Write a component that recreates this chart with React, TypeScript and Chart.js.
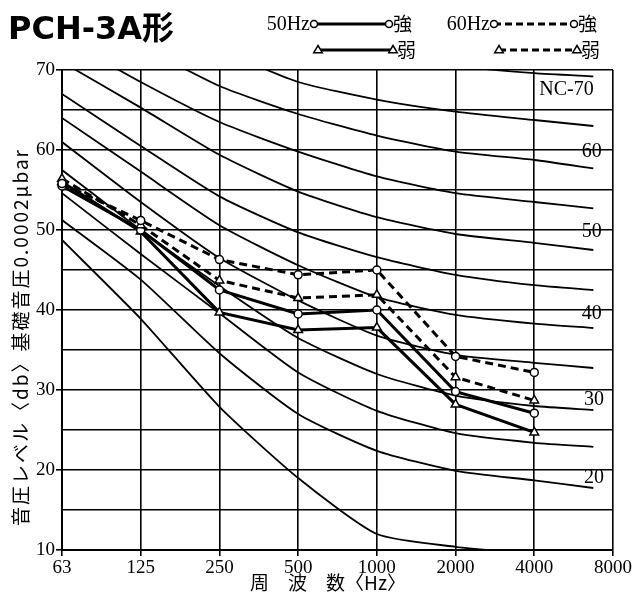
import React, { useEffect, useRef } from 'react';
import { Chart, registerables } from 'chart.js';

Chart.register(...registerables);

// ---- data ----
const freqLabels = ['63', '125', '250', '500', '1000', '2000', '4000', '8000'];
const dataX = [0, 1, 2, 3, 4, 5, 6];

const hz50Strong = [55.5, 50.0, 42.5, 39.5, 40.0, 29.8, 27.1];
const hz50Weak = [56.0, 49.8, 39.7, 37.5, 37.8, 28.2, 24.7];
const hz60Strong = [55.8, 51.2, 46.3, 44.4, 45.0, 34.2, 32.2];
const hz60Weak = [56.4, 50.6, 43.7, 41.5, 41.9, 31.6, 28.7];

// NC curve sample positions (category index; last point is where the drawn curve ends)
const ncX = [0, 1, 2, 3, 4, 5, 6, 6.75];
const nc15 = [48.75, 38.9, 27.9, 19.0, 12.0, 10.4, 9.5, 9.0];
const nc20 = [51.25, 43.8, 34.6, 27.0, 22.4, 19.9, 18.7, 17.75];
const nc25 = [54.6, 47.0, 39.6, 32.2, 27.4, 24.6, 23.4, 22.9];
const nc30 = [57.5, 50.0, 43.0, 36.5, 32.0, 29.3, 28.0, 27.5];
const nc35 = [61.0, 53.5, 46.5, 41.2, 36.8, 34.4, 33.4, 32.75];
const nc40 = [64.0, 57.3, 50.6, 45.6, 41.6, 39.4, 38.3, 37.75];
const nc45 = [67.0, 60.5, 54.2, 49.7, 46.6, 44.4, 43.1, 42.5];
const nc50 = [71.0, 65.3, 59.4, 54.8, 51.6, 49.5, 48.4, 47.5];
const nc55 = [74.0, 68.5, 63.5, 59.8, 56.7, 54.6, 53.5, 52.7];
const nc60 = [78.0, 73.0, 68.0, 64.5, 61.8, 59.8, 58.75, 57.7];
const nc65 = [81.0, 76.5, 72.5, 68.5, 66.3, 64.8, 63.75, 63.0];
const nc70 = [85.0, 81.0, 77.0, 74.0, 71.8, 70.5, 69.6, 69.2];
const ncCurves = [nc15, nc20, nc25, nc30, nc35, nc40, nc45, nc50, nc55, nc60, nc65, nc70];

const ncLabelText = ['NC-70', '60', '50', '40', '30', '20'];
const ncLabelValue = [67.5, 59.75, 49.75, 39.5, 28.75, 19.0];
const ncLabelPos = [6.41, 6.73, 6.73, 6.73, 6.76, 6.76];

const yMin = 10;
const yMax = 70;

const SERIF = '"Liberation Serif", "DejaVu Serif", "Noto Sans CJK JP", serif';
const CJK = '"Noto Sans CJK JP", "Liberation Serif", serif';

function pts(xs: number[], ys: number[]) {
  return ys.map((v, i) => ({ x: xs[i], y: v }));
}

function drawCircle(ctx: CanvasRenderingContext2D, x: number, y: number, r: number) {
  ctx.beginPath();
  ctx.arc(x, y, r, 0, Math.PI * 2);
  ctx.fillStyle = '#fff';
  ctx.fill();
  ctx.lineWidth = 1.5;
  ctx.strokeStyle = '#000';
  ctx.stroke();
}

function drawTri(ctx: CanvasRenderingContext2D, x: number, y: number, r: number) {
  ctx.beginPath();
  ctx.moveTo(x, y - r);
  ctx.lineTo(x + r * 0.95, y + r * 0.6);
  ctx.lineTo(x - r * 0.95, y + r * 0.6);
  ctx.closePath();
  ctx.fillStyle = '#fff';
  ctx.fill();
  ctx.lineWidth = 1.5;
  ctx.strokeStyle = '#000';
  ctx.stroke();
}

const textPlugin = {
  id: 'textPlugin',
  afterDraw(chart: any) {
    const { ctx, scales } = chart;
    const xs = scales.x;
    const ys = scales.y;
    ctx.save();
    ctx.fillStyle = '#000';

    // Title
    ctx.font = 'bold 32px "DejaVu Sans", "Noto Sans CJK JP", sans-serif';
    ctx.textAlign = 'left';
    ctx.textBaseline = 'alphabetic';
    ctx.fillText('PCH-3A形', 8, 39);

    // Legend
    const leg = (label: string | null, x0: number, x1: number, y: number, dashed: boolean, tri: boolean, word: string) => {
      if (label) {
        ctx.font = '20px ' + SERIF;
        ctx.textAlign = 'right';
        ctx.textBaseline = 'middle';
        ctx.fillStyle = '#000';
        ctx.fillText(label, x0 - 4, y + 1);
      }
      ctx.beginPath();
      ctx.setLineDash(dashed ? [7, 4] : []);
      ctx.lineWidth = 3;
      ctx.strokeStyle = '#000';
      ctx.moveTo(x0, y);
      ctx.lineTo(x1, y);
      ctx.stroke();
      ctx.setLineDash([]);
      if (tri) {
        drawTri(ctx, x0, y, 4.5);
        drawTri(ctx, x1, y, 4.5);
      } else {
        drawCircle(ctx, x0, y, 3.5);
        drawCircle(ctx, x1, y, 3.5);
      }
      ctx.font = '19px ' + CJK;
      ctx.textAlign = 'left';
      ctx.textBaseline = 'middle';
      ctx.fillStyle = '#000';
      ctx.fillText(word, x1 + 4, y);
    };
    leg('50Hz', 314, 389, 24, false, false, '強');
    leg(null, 318, 393, 50, false, true, '弱');
    leg('60Hz', 494, 574, 24, true, false, '強');
    leg(null, 499, 577, 50, true, true, '弱');

    // NC labels
    ctx.font = '20px ' + SERIF;
    ctx.textAlign = 'center';
    ctx.textBaseline = 'middle';
    ncLabelText.forEach((t, i) => {
      ctx.fillText(t, xs.getPixelForValue(ncLabelPos[i]), ys.getPixelForValue(ncLabelValue[i]));
    });

    // Y title
    ctx.save();
    ctx.translate(21, 337);
    ctx.rotate(-Math.PI / 2);
    ctx.font = '19px ' + CJK;
    (ctx as any).letterSpacing = '2px';
    ctx.textAlign = 'center';
    ctx.textBaseline = 'middle';
    ctx.fillText('音圧レベル〈db〉基礎音圧0.0002μbar', 0, 0);
    ctx.restore();

    // X title
    ctx.font = '19px ' + CJK;
    ctx.textAlign = 'center';
    ctx.textBaseline = 'middle';
    ctx.fillText('周　波　数〈Hz〉', 328, 583);

    ctx.restore();
  },
};

export default function App() {
  const canvasRef = useRef<HTMLCanvasElement | null>(null);

  useEffect(() => {
    if (!canvasRef.current) return;

    const seriesStyle = (dashed: boolean, tri: boolean) => ({
      borderColor: '#000',
      borderWidth: 3,
      borderDash: dashed ? [8, 5] : [],
      pointStyle: tri ? 'triangle' : 'circle',
      pointRadius: tri ? 5 : 4,
      pointBackgroundColor: '#fff',
      pointBorderColor: '#000',
      pointBorderWidth: 1.5,
      tension: 0,
      fill: false,
      clip: false as any,
      order: 1,
    });

    const ncSets = ncCurves.map((c) => ({
      data: pts(ncX, c),
      borderColor: '#000',
      borderWidth: 1.8,
      pointRadius: 0,
      tension: 0.2,
      fill: false,
      clip: 0,
      order: 5,
    }));

    const chart = new Chart(canvasRef.current, {
      type: 'line',
      data: {
        datasets: [
          { data: pts(dataX, hz60Strong), ...seriesStyle(true, false) },
          { data: pts(dataX, hz60Weak), ...seriesStyle(true, true) },
          { data: pts(dataX, hz50Strong), ...seriesStyle(false, false) },
          { data: pts(dataX, hz50Weak), ...seriesStyle(false, true) },
          ...ncSets,
        ] as any,
      },
      options: {
        animation: false,
        responsive: false,
        maintainAspectRatio: false,
        devicePixelRatio: 1,
        layout: { padding: { left: 0, right: 23, top: 70, bottom: 0 } },
        plugins: {
          legend: { display: false },
          tooltip: { enabled: false },
          title: { display: false },
        },
        scales: {
          x: {
            type: 'linear',
            min: 0,
            max: freqLabels.length - 1,
            afterFit: (s: any) => {
              s.height = 49;
            },
            ticks: {
              stepSize: 1,
              autoSkip: false,
              maxRotation: 0,
              padding: 1,
              color: '#000',
              font: { family: SERIF, size: 19 },
              callback: (v: any) => freqLabels[Number(v)] ?? '',
            },
            grid: {
              color: '#000',
              lineWidth: 1.6,
              tickLength: 6,
              tickColor: '#000',
            },
            border: { display: true, color: '#000', width: 2 },
          },
          y: {
            type: 'linear',
            min: yMin,
            max: yMax,
            afterFit: (s: any) => {
              s.width = 62;
            },
            ticks: {
              stepSize: 5,
              autoSkip: false,
              padding: 1,
              color: '#000',
              font: { family: SERIF, size: 19 },
              callback: (v: any) => (Number(v) % 10 === 0 ? String(v) : ''),
            },
            grid: {
              color: '#000',
              lineWidth: 1.6,
              tickLength: 6,
              tickColor: (c: any) => (c.tick && c.tick.value % 10 === 0 ? '#000' : 'rgba(0,0,0,0)'),
            },
            border: { display: true, color: '#000', width: 2 },
          },
        },
      } as any,
      plugins: [textPlugin],
    });

    return () => {
      chart.destroy();
    };
  }, []);

  return (
    <div style={{ position: 'fixed', left: 0, top: 0, width: 636, height: 599, background: '#fff' }}>
      <canvas ref={canvasRef} width={636} height={599} style={{ width: 636, height: 599, display: 'block' }} />
    </div>
  );
}
